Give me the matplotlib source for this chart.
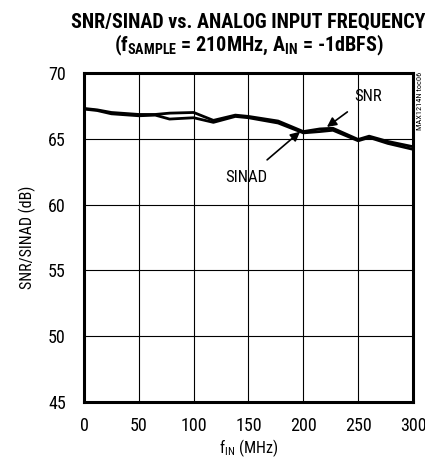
import numpy as np
import matplotlib
matplotlib.use("Agg")
import matplotlib.pyplot as plt
from matplotlib import font_manager

# values
freq = [1, 12, 25, 50, 65, 78, 100, 118, 138, 150, 177, 200, 215, 227, 250, 260, 277, 300]
snr = [67.3, 67.2, 67.0, 66.85, 66.85, 66.95, 67.0, 66.4, 66.8, 66.7, 66.35, 65.55,
       65.75, 65.8, 64.95, 65.2, 64.8, 64.4]
sinad = [67.25, 67.15, 66.9, 66.75, 66.8, 66.5, 66.6, 66.25, 66.7, 66.6, 66.2, 65.45,
         65.55, 65.65, 64.85, 65.1, 64.65, 64.2]
xticks = [0, 50, 100, 150, 200, 250, 300]
yticks = [45, 50, 55, 60, 65, 70]

# pick a narrow face if one is installed, else plain Liberation Sans
names = set(f.name for f in font_manager.fontManager.ttflist)
fam = 'Liberation Sans'
narrow = False
for cand in ['Liberation Sans Narrow', 'Roboto Condensed', 'Open Sans Condensed',
             'DejaVu Sans Condensed']:
    if cand in names:
        fam = cand
        narrow = True
        break
k = 1.0 if narrow else 0.85

plt.rcParams['font.family'] = [fam, 'DejaVu Sans']
plt.rcParams['mathtext.fontset'] = 'custom'
plt.rcParams['mathtext.rm'] = fam
plt.rcParams['mathtext.bf'] = fam + ':bold'

fig = plt.figure(figsize=(4.25, 4.58), dpi=100)
ax = fig.add_axes([0.1976, 0.1223, 0.7742, 0.7183])

ax.plot(freq, snr, color='black', lw=2.0)
ax.plot(freq, sinad, color='black', lw=2.0)

ax.set_xlim(0, 300)
ax.set_ylim(45, 70)
ax.set_xticks(xticks)
ax.set_yticks(yticks)
ax.tick_params(length=0, labelsize=13 * k, pad=11)
ax.tick_params(axis='y', pad=13)
ax.grid(True, color='black', lw=0.8)
for s in ax.spines.values():
    s.set_linewidth(2.2)

ax.set_ylabel('SNR/SINAD (dB)', fontsize=11.5 * k, labelpad=9)
ax.set_xlabel(r'f$_\mathrm{IN}$ (MHz)', fontsize=11.5 * k)
ax.xaxis.set_label_coords(0.5, -0.108)

fig.text(0.585, 0.952, 'SNR/SINAD vs. ANALOG INPUT FREQUENCY', ha='center', va='center',
         fontsize=14.5 * k, fontweight='bold')
fig.text(0.585, 0.901, r'(f$_\mathbf{SAMPLE}$ = 210MHz, A$_\mathbf{IN}$ = -1dBFS)',
         ha='center', va='center', fontsize=14.5 * k, fontweight='bold')

ax.annotate('SNR', xy=(221.5, 65.9), xytext=(259, 68.2), ha='center', va='center',
            fontsize=12 * k, arrowprops=dict(arrowstyle='-|>', color='black', lw=1.2,
                                             shrinkA=6, shrinkB=0, mutation_scale=14))
ax.annotate('SINAD', xy=(197, 65.54), xytext=(148.3, 62.07), ha='center', va='center',
            fontsize=12 * k, arrowprops=dict(arrowstyle='-|>', color='black', lw=1.2,
                                             shrinkA=8, shrinkB=0, mutation_scale=14))

fig.text(0.995, 0.78, 'MAX1214N toc06', rotation=90, ha='right', va='center', fontsize=6)

fig.savefig('out.png', dpi=100)
